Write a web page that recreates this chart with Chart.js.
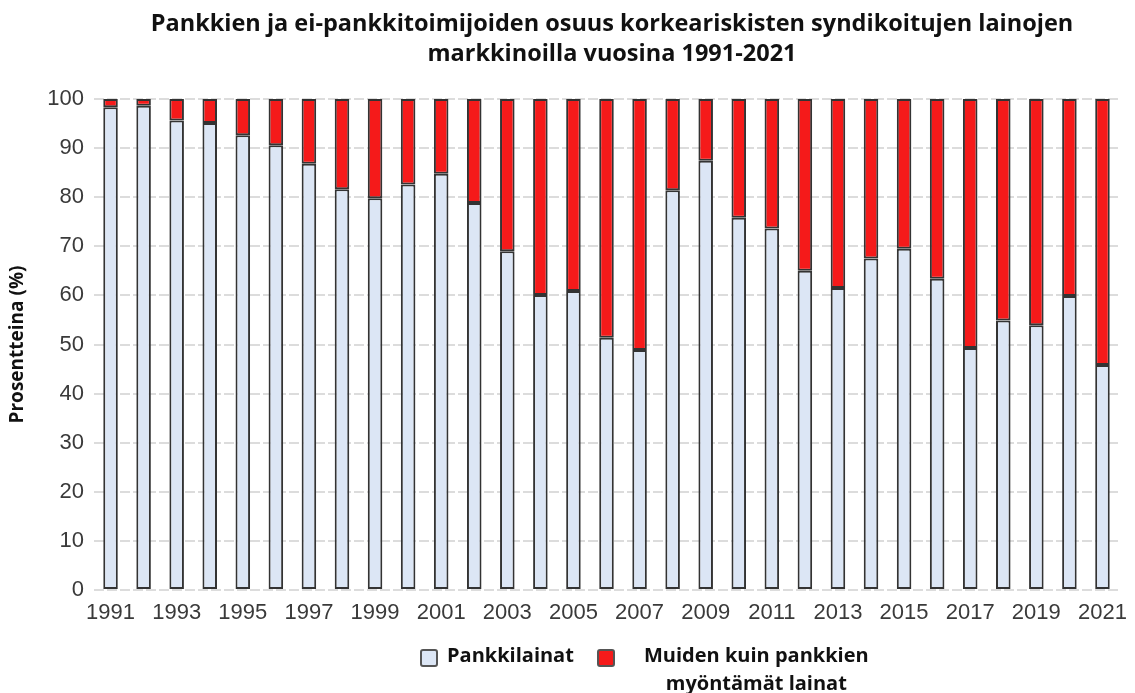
<!DOCTYPE html>
<html>
<head>
<meta charset="utf-8">
<script src="https://cdn.jsdelivr.net/npm/chart.js@4/dist/chart.umd.min.js"></script>
<style>
  body { margin: 0; background: #fff; }
  #wrap { position: relative; width: 1135px; height: 693px; }
  #title {
    position: absolute; left: 612px; top: 7px; transform: translateX(-50%);
    font-family: "Open Sans", sans-serif; font-weight: 700; font-size: 23.5px; line-height: 30px;
    color: #111; text-align: center; white-space: nowrap;
  }
  #legend {
    position: absolute; left: 0; top: 640px; width: 1135px;
    font-family: "Open Sans", sans-serif; font-weight: 700; font-size: 20px; color: #111;
  }
  .item { position: absolute; top: 0; }
  .box { position: absolute; width: 14px; height: 14px; border: 2px solid #555; border-radius: 3px; top: 9px; }
  .txt { position: absolute; line-height: 28px; text-align: center; white-space: nowrap; }
</style>
</head>
<body>
<div id="wrap">
  <canvas id="chart" width="1135" height="693"></canvas>
  <div id="title">Pankkien ja ei-pankkitoimijoiden osuus korkeariskisten syndikoitujen lainojen<br>markkinoilla vuosina 1991-2021</div>
  <div id="legend">
    <div class="item" style="left:420px"><div class="box" style="background:#dce6f5"></div><div class="txt" style="left:27px;top:1px">Pankkilainat</div></div>
    <div class="item" style="left:597px"><div class="box" style="background:#f51a1a"></div><div class="txt" style="left:47px;top:1px">Muiden kuin pankkien<br>myöntämät lainat</div></div>
  </div>
</div>
<script>
"use strict";
const years = ['1991','1992','1993','1994','1995','1996','1997','1998','1999','2000',
  '2001','2002','2003','2004','2005','2006','2007','2008','2009','2010',
  '2011','2012','2013','2014','2015','2016','2017','2018','2019','2020','2021'];
const bankLoans = [98.3, 98.6, 95.6, 95.1, 92.6, 90.6, 86.8, 81.6, 79.8, 82.6,
  84.8, 78.8, 69.0, 60.1, 60.9, 51.4, 48.9, 81.4, 87.4, 75.8,
  73.6, 65.0, 61.5, 67.5, 69.5, 63.4, 49.3, 54.9, 53.9, 59.9, 45.8];
const otherLoans = [1.7, 1.4, 4.4, 4.9, 7.4, 9.4, 13.2, 18.4, 20.2, 17.4,
  15.2, 21.2, 31.0, 39.9, 39.1, 48.6, 51.1, 18.6, 12.6, 24.2,
  26.4, 35.0, 38.5, 32.5, 30.5, 36.6, 50.7, 45.1, 46.1, 40.1, 54.2];
const yTicks = [0, 10, 20, 30, 40, 50, 60, 70, 80, 90, 100];

const tickFont = { family: 'Liberation Sans, Arial, sans-serif', size: 22 };

var ctx = document.getElementById('chart').getContext('2d');
var myChart = new Chart(ctx, {
  type: 'bar',
  data: {
    labels: years,
    datasets: [{
      label: 'Pankkilainat',
      data: bankLoans,
      backgroundColor: '#dce6f5',
      borderColor: '#333',
      borderWidth: 2,
      borderSkipped: false,
    }, {
      label: 'Muiden kuin pankkien myöntämät lainat',
      data: otherLoans,
      backgroundColor: '#f51a1a',
      borderColor: '#333',
      borderWidth: 2,
      borderSkipped: false,
    }]
  },
  options: {
    responsive: false,
    animation: false,
    layout: { padding: { left: 6, right: 16, top: 99, bottom: 63 } },
    datasets: { bar: { barPercentage: 0.44, categoryPercentage: 1 } },
    scales: {
      x: {
        stacked: true,
        grid: { display: false },
        border: { display: false },
        ticks: {
          autoSkip: false,
          maxRotation: 0,
          color: '#3a3a3a',
          font: tickFont,
          padding: 2,
          callback: function(val, index) { return index % 2 === 0 ? this.getLabelForValue(val) : ''; }
        },
        afterFit: function(s) { s.height = 40; }
      },
      y: {
        stacked: true,
        min: 0, max: 100,
        afterBuildTicks: function(s) { s.ticks = yTicks.map(v => ({ value: v })); },
        grid: { color: '#dcdcdc', lineWidth: 2, drawTicks: false },
        border: { display: false, dash: [10, 3] },
        ticks: { color: '#3a3a3a', font: tickFont, padding: 10 },
        title: {
          display: true,
          text: 'Prosentteina (%)',
          color: '#111',
          font: { family: 'Open Sans, sans-serif', weight: 'bold', size: 19 },
          padding: 0
        },
        afterFit: function(s) { s.width = 88; }
      }
    },
    plugins: {
      legend: { display: false },
      tooltip: { enabled: false },
      title: { display: false }
    }
  }
});
</script>
</body>
</html>
